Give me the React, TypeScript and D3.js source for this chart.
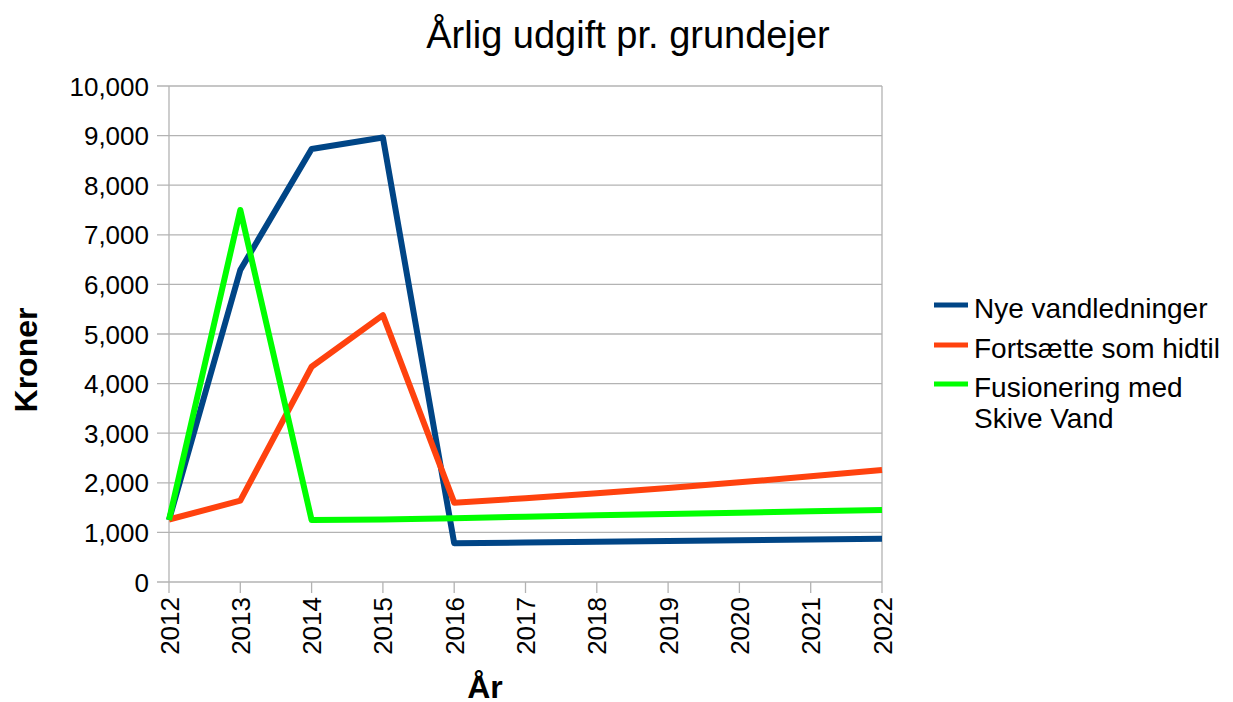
import React from "react";
import * as d3 from "d3";

const years = [2012, 2013, 2014, 2015, 2016, 2017, 2018, 2019, 2020, 2021, 2022];
const nyeVandledninger = [1250, 6290, 8730, 8960, 780, 795, 810, 825, 840, 855, 870];
const fortsaetteSomHidtil = [1260, 1640, 4340, 5380, 1600, 1690, 1790, 1895, 2010, 2130, 2258];
const fusioneringMedSkiveVand = [1250, 7500, 1250, 1260, 1284, 1317, 1344, 1371, 1398, 1425, 1452];
const yTicks = [0, 1000, 2000, 3000, 4000, 5000, 6000, 7000, 8000, 9000, 10000];

const series = [
  { name: ["Nye vandledninger"], values: nyeVandledninger, color: "#004586" },
  { name: ["Fortsætte som hidtil"], values: fortsaetteSomHidtil, color: "#ff420e" },
  { name: ["Fusionering med", "Skive Vand"], values: fusioneringMedSkiveVand, color: "#00ff00" },
];

export default function App() {
  const W = 1233, H = 702;
  const left = 169, right = 882, top = 86, bottom = 582;
  const x = d3.scaleLinear().domain([2012, 2022]).range([left, right]);
  const y = d3.scaleLinear().domain([0, 10000]).range([bottom, top]);
  const fmt = d3.format(",");
  const line = d3.line<number>().x((_, i) => x(years[i])).y((d) => y(d));
  const font = "'Liberation Sans', Arial, sans-serif";
  const legendY = [305, 345, 384];

  return (
    <svg width={W} height={H} style={{ position: "absolute", left: 0, top: 0, background: "#fff" }} fontFamily={font}>
      <rect width={W} height={H} fill="#fff" />
      <text x={628} y={48} textAnchor="middle" fontSize={38}>Årlig udgift pr. grundejer</text>
      {yTicks.map((t) => (
        <g key={t}>
          <line x1={left - 12} x2={right} y1={y(t)} y2={y(t)} stroke="#b3b3b3" strokeWidth={1.3} />
          <text x={149} y={y(t) + 9.5} textAnchor="end" fontSize={26}>{fmt(t)}</text>
        </g>
      ))}
      <line x1={left} x2={left} y1={top} y2={bottom} stroke="#b3b3b3" strokeWidth={1.3} />
      <line x1={right} x2={right} y1={top} y2={bottom} stroke="#b3b3b3" strokeWidth={1.3} />
      {years.map((yr) => (
        <g key={yr}>
          <line x1={x(yr)} x2={x(yr)} y1={bottom} y2={bottom + 11} stroke="#b3b3b3" strokeWidth={1.3} />
          <text transform={`translate(${x(yr) + 9.5},${bottom + 15}) rotate(-90)`} textAnchor="end" fontSize={26}>{yr}</text>
        </g>
      ))}
      {series.map((s) => (
        <path key={s.name[0]} d={line(s.values) || ""} fill="none" stroke={s.color} strokeWidth={6} strokeLinejoin="round" />
      ))}
      <text transform={`translate(37,${(top + bottom) / 2 + 26}) rotate(-90)`} textAnchor="middle" fontSize={32} fontWeight="bold">Kroner</text>
      <text x={485} y={698} textAnchor="middle" fontSize={32} fontWeight="bold">År</text>
      {series.map((s, i) => (
        <g key={"lg" + i}>
          <line x1={934} x2={968} y1={legendY[i]} y2={legendY[i]} stroke={s.color} strokeWidth={5} />
          {s.name.map((n, j) => (
            <text key={j} x={974} y={legendY[i] + 13 + j * 31} fontSize={28}>{n}</text>
          ))}
        </g>
      ))}
    </svg>
  );
}
